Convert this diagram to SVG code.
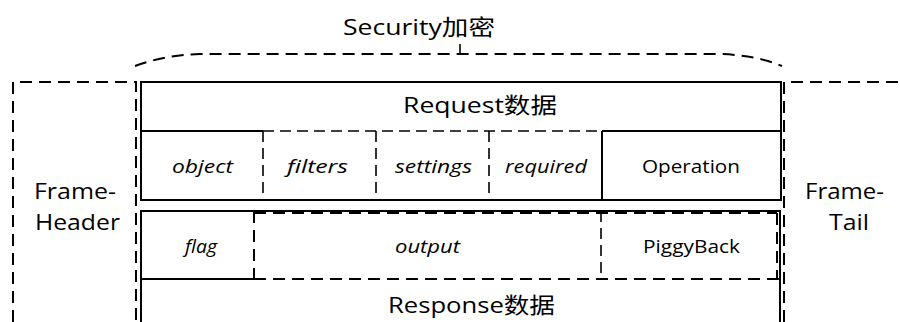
<svg xmlns="http://www.w3.org/2000/svg" width="900" height="322" viewBox="0 0 900 322">
  <style>
    text { font-family: "Open Sans", "Noto Sans CJK SC", sans-serif; fill: #000; }
    .big { font-size: 22px; }
    .side { font-size: 22px; }
    .cell { font-size: 18px; font-style: italic; }
    .cellr { font-size: 18px; }
    .solid { fill: none; stroke: #000; stroke-width: 2; }
    .dash { fill: none; stroke: #000; stroke-width: 2; stroke-dasharray: 12 7; }
    .dashs { fill: none; stroke: #000; stroke-width: 1.6; stroke-dasharray: 11 6; }
  </style>

  <!-- Security brace over the payload -->
  <g id="security">
    <path class="dash" d="M135,66 Q165,55 200,54 L720,54 Q755,55 782,66"/>
    <line x1="460" y1="44" x2="460" y2="54" stroke="#000" stroke-width="1.6"/>
    <text class="big" x="343" y="35" textLength="152" lengthAdjust="spacingAndGlyphs">Security加密</text>
  </g>

  <!-- Frame header -->
  <g id="frame-header">
    <path class="dash" d="M13,322 L13,82 L136,82 L136,322"/>
    <text class="side" x="34" y="199" textLength="82" lengthAdjust="spacingAndGlyphs">Frame-</text>
    <text class="side" x="35" y="230" textLength="85" lengthAdjust="spacingAndGlyphs">Header</text>
  </g>

  <!-- Frame tail -->
  <g id="frame-tail">
    <path class="dash" d="M784,322 L784,82 L900,82"/>
    <text class="side" x="805" y="199" textLength="79" lengthAdjust="spacingAndGlyphs">Frame-</text>
    <text class="side" x="829" y="230" textLength="40" lengthAdjust="spacingAndGlyphs">Tail</text>
  </g>

  <!-- Request block -->
  <g id="request">
    <rect class="solid" x="141" y="82" width="640" height="118"/>
    <text class="big" x="403" y="113" textLength="154" lengthAdjust="spacingAndGlyphs">Request数据</text>
  </g>
  <g id="req-object"><text class="cell" x="172" y="173" textLength="61" lengthAdjust="spacingAndGlyphs">object</text></g>
  <g id="req-filters"><text class="cell" x="287" y="173" textLength="61" lengthAdjust="spacingAndGlyphs">filters</text></g>
  <g id="req-settings"><text class="cell" x="395" y="173" textLength="77" lengthAdjust="spacingAndGlyphs">settings</text></g>
  <g id="req-required"><text class="cell" x="505" y="173" textLength="82" lengthAdjust="spacingAndGlyphs">required</text></g>
  <g id="req-operation"><text class="cellr" x="642" y="173" textLength="98" lengthAdjust="spacingAndGlyphs">Operation</text></g>

  <!-- Response block -->
  <g id="response">
    <path class="solid" d="M141,322 L141,211 L780,211 L780,322"/>
    <text class="big" x="388" y="313" textLength="167" lengthAdjust="spacingAndGlyphs">Response数据</text>
  </g>
  <g id="resp-flag"><text class="cell" x="185" y="253" textLength="32" lengthAdjust="spacingAndGlyphs">flag</text></g>
  <g id="resp-output"><text class="cell" x="395" y="253" textLength="65" lengthAdjust="spacingAndGlyphs">output</text></g>
  <g id="resp-piggyback"><text class="cellr" x="643" y="253" textLength="97" lengthAdjust="spacingAndGlyphs">PiggyBack</text></g>

  <!-- Field separators -->
  <g id="connectors">
    <line class="solid" x1="141" y1="131" x2="263" y2="131"/>
    <line class="dashs" x1="263" y1="131" x2="602" y2="131"/>
    <line class="solid" x1="602" y1="131" x2="781" y2="131"/>
    <line class="dashs" x1="263" y1="131" x2="263" y2="200"/>
    <line class="dashs" x1="376" y1="131" x2="376" y2="200"/>
    <line class="dashs" x1="489" y1="131" x2="489" y2="200"/>
    <line class="solid" x1="602" y1="131" x2="602" y2="200"/>

    <line class="dash" x1="254" y1="213" x2="777" y2="213"/>
    <line class="dash" x1="777" y1="213" x2="777" y2="279"/>
    <line class="solid" x1="141" y1="279" x2="254" y2="279"/>
    <line class="dash" x1="254" y1="279" x2="780" y2="279"/>
    <line class="dash" x1="254" y1="211" x2="254" y2="279"/>
    <line class="dashs" x1="601" y1="211" x2="601" y2="279"/>
  </g>
</svg>
